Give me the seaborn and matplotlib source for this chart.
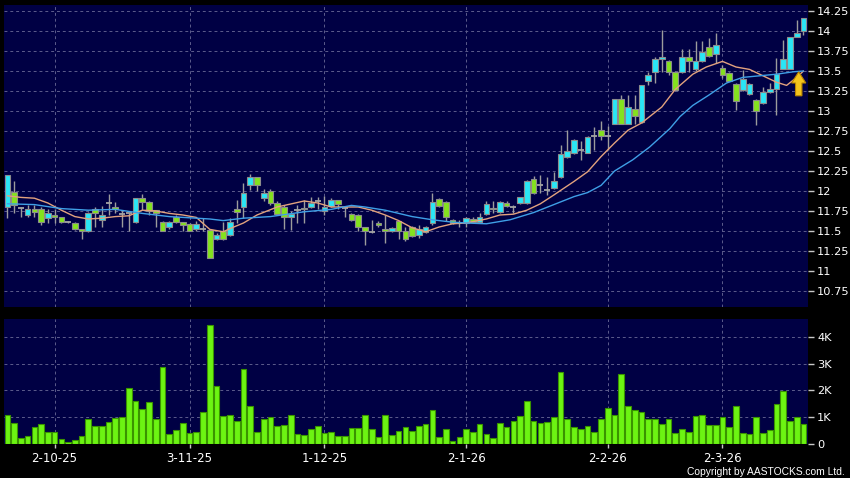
import numpy as np
import pandas as pd
import matplotlib
matplotlib.use("Agg")
import matplotlib.pyplot as plt
import seaborn as sns
from matplotlib.patches import FancyArrow

# ---------------- data ----------------
opens = [11.80, 11.99, 11.79, 11.70, 11.77, 11.78, 11.66, 11.70, 11.67, 11.61,
         11.60, 11.53, 11.50, 11.77, 11.64, 11.85, 11.80, 11.71, 11.72, 11.61,
         11.91, 11.86, 11.76, 11.61, 11.55, 11.68, 11.61, 11.59, 11.53, 11.52,
         11.51, 11.40, 11.50, 11.45, 11.78, 11.80, 12.08, 12.17, 11.91, 12.00,
         11.85, 11.80, 11.67, 11.76, 11.77, 11.80, 11.87, 11.75, 11.81, 11.89,
         11.79, 11.71, 11.70, 11.55, 11.49, 11.60, 11.53, 11.50, 11.62, 11.50,
         11.55, 11.45, 11.49, 11.60, 11.90, 11.86, 11.64, 11.60, 11.60, 11.65,
         11.61, 11.71, 11.79, 11.74, 11.85, 11.80, 11.85, 11.85, 12.15, 12.08,
         12.01, 12.04, 12.17, 12.42, 12.48, 12.51, 12.48, 12.69, 12.76, 12.69,
         12.84, 13.15, 12.84, 13.02, 12.86, 13.38, 13.49, 13.65, 13.63, 13.49,
         13.49, 13.68, 13.52, 13.62, 13.80, 13.71, 13.54, 13.48, 13.34, 13.26,
         13.21, 13.14, 13.10, 13.24, 13.28, 13.53, 13.53, 13.93, 14.00]
highs = [12.20, 12.13, 11.80, 11.82, 11.82, 11.80, 11.78, 11.77, 11.68, 11.62,
         11.61, 11.53, 11.74, 11.80, 11.81, 11.96, 11.86, 11.76, 11.72, 11.91,
         11.96, 11.87, 11.76, 11.62, 11.62, 11.70, 11.61, 11.60, 11.62, 11.66,
         11.52, 11.47, 11.61, 11.66, 11.89, 12.10, 12.21, 12.18, 12.03, 12.03,
         11.88, 11.82, 11.75, 11.82, 11.89, 11.93, 11.93, 11.94, 11.91, 11.89,
         11.80, 11.72, 11.71, 11.55, 11.64, 11.62, 11.70, 11.55, 11.63, 11.55,
         11.56, 11.57, 11.56, 11.97, 11.91, 11.87, 11.65, 11.64, 11.68, 11.67,
         11.72, 11.87, 11.87, 11.87, 11.87, 11.82, 11.93, 12.14, 12.19, 12.20,
         12.18, 12.24, 12.58, 12.76, 12.65, 12.62, 12.69, 12.80, 12.88, 12.81,
         13.15, 13.20, 13.20, 13.20, 13.33, 13.49, 13.68, 14.01, 13.64, 13.50,
         13.78, 13.78, 13.88, 13.87, 13.91, 13.97, 13.57, 13.49, 13.35, 13.51,
         13.35, 13.15, 13.30, 13.35, 13.66, 13.89, 13.92, 14.14, 14.16]
lows = [11.66, 11.72, 11.67, 11.67, 11.68, 11.57, 11.60, 11.60, 11.60, 11.60,
        11.51, 11.40, 11.49, 11.55, 11.55, 11.70, 11.72, 11.55, 11.50, 11.60,
        11.76, 11.70, 11.55, 11.50, 11.52, 11.60, 11.50, 11.50, 11.50, 11.50,
        11.16, 11.39, 11.39, 11.44, 11.60, 11.66, 12.01, 12.00, 11.88, 11.83,
        11.70, 11.53, 11.51, 11.60, 11.60, 11.79, 11.78, 11.70, 11.80, 11.78,
        11.68, 11.63, 11.50, 11.33, 11.48, 11.55, 11.35, 11.49, 11.40, 11.38,
        11.42, 11.41, 11.48, 11.58, 11.80, 11.62, 11.59, 11.55, 11.55, 11.60,
        11.60, 11.70, 11.72, 11.73, 11.80, 11.72, 11.84, 11.84, 11.96, 11.97,
        11.95, 12.03, 12.16, 12.41, 12.46, 12.39, 12.47, 12.51, 12.64, 12.51,
        12.84, 12.84, 12.84, 12.84, 12.85, 13.33, 13.35, 13.49, 13.45, 13.25,
        13.48, 13.49, 13.50, 13.61, 13.67, 13.60, 13.41, 13.37, 13.01, 13.25,
        13.20, 12.82, 13.09, 13.23, 12.95, 13.52, 13.52, 13.92, 13.95]
closes = [12.20, 11.83, 11.79, 11.77, 11.74, 11.61, 11.73, 11.67, 11.61, 11.61,
          11.52, 11.50, 11.73, 11.73, 11.70, 11.85, 11.77, 11.71, 11.72, 11.91,
          11.86, 11.75, 11.73, 11.50, 11.61, 11.61, 11.58, 11.50, 11.59, 11.52,
          11.16, 11.45, 11.40, 11.61, 11.74, 11.98, 12.17, 12.07, 11.98, 11.85,
          11.71, 11.67, 11.71, 11.76, 11.79, 11.85, 11.87, 11.80, 11.89, 11.84,
          11.79, 11.64, 11.55, 11.50, 11.49, 11.57, 11.50, 11.54, 11.50, 11.40,
          11.44, 11.53, 11.55, 11.86, 11.81, 11.67, 11.60, 11.60, 11.66, 11.61,
          11.68, 11.84, 11.77, 11.86, 11.81, 11.80, 11.92, 12.13, 11.97, 12.08,
          12.01, 12.12, 12.46, 12.50, 12.64, 12.51, 12.67, 12.69, 12.69, 12.69,
          13.15, 12.84, 13.05, 12.94, 13.33, 13.45, 13.65, 13.67, 13.49, 13.26,
          13.68, 13.62, 13.62, 13.74, 13.69, 13.83, 13.45, 13.38, 13.12, 13.40,
          13.34, 13.00, 13.24, 13.28, 13.46, 13.65, 13.92, 13.97, 14.16]
volume_k = [1.07, 0.79, 0.19, 0.28, 0.63, 0.72, 0.44, 0.44, 0.16, 0.04,
            0.15, 0.28, 0.94, 0.67, 0.67, 0.82, 0.97, 0.99, 2.10, 1.62,
            1.29, 1.55, 0.92, 2.89, 0.37, 0.50, 0.76, 0.40, 0.42, 1.19,
            4.46, 2.16, 1.04, 1.06, 0.83, 2.79, 1.42, 0.44, 0.91, 1.00,
            0.65, 0.68, 1.09, 0.35, 0.33, 0.56, 0.65, 0.40, 0.44, 0.28,
            0.30, 0.59, 0.60, 1.06, 0.54, 0.24, 1.07, 0.31, 0.46, 0.64,
            0.46, 0.65, 0.73, 1.25, 0.25, 0.56, 0.11, 0.23, 0.53, 0.42,
            0.72, 0.34, 0.19, 0.77, 0.62, 0.86, 1.05, 1.61, 0.84, 0.76,
            0.82, 0.98, 2.70, 0.91, 0.63, 0.54, 0.67, 0.45, 0.93, 1.32,
            1.06, 2.62, 1.40, 1.28, 1.18, 0.91, 0.94, 0.72, 0.92, 0.40,
            0.53, 0.45, 1.04, 1.06, 0.70, 0.69, 1.00, 0.62, 1.42, 0.39,
            0.34, 1.00, 0.39, 0.49, 1.47, 1.97, 0.84, 1.00, 0.73]

ma10_idx = [0, 2, 4, 6, 8, 10, 12, 14, 16, 18, 20, 22, 24, 26, 28, 30, 32, 33, 35, 37,
            40, 44, 46, 48, 50, 52, 54, 56, 58, 60, 62, 64, 66, 68, 71, 73, 75, 77, 79, 81,
            84, 86, 88, 90, 92, 94, 97, 99, 101.6, 103.6, 106, 108, 110, 112, 114, 115.5, 117, 118]
ma10_val = [11.94, 11.92, 11.91, 11.85, 11.76, 11.68, 11.65, 11.66, 11.68, 11.69, 11.76, 11.75,
            11.72, 11.70, 11.67, 11.52, 11.49, 11.53, 11.60, 11.70, 11.80, 11.875, 11.85, 11.80,
            11.80, 11.80, 11.76, 11.70, 11.63, 11.54, 11.49, 11.55, 11.59, 11.60, 11.65, 11.70,
            11.71, 11.76, 11.84, 11.95, 12.12, 12.24, 12.43, 12.60, 12.76, 12.85, 13.05, 13.27,
            13.46, 13.55, 13.62, 13.55, 13.52, 13.44, 13.36, 13.32, 13.42, 13.50]
ma20_idx = [0, 4, 8, 12, 16, 20, 24, 28, 30, 32, 35, 39, 44, 48, 51, 53, 56, 58, 60, 63,
            66, 68, 71, 74.5, 78, 81, 84, 86, 88, 90, 92.7, 95.2, 98.2, 99.7, 101.6, 104,
            106.6, 109, 111.5, 114, 116.5, 118]
ma20_val = [11.84, 11.83, 11.78, 11.76, 11.77, 11.72, 11.68, 11.66, 11.65, 11.63, 11.66, 11.68,
            11.74, 11.77, 11.82, 11.80, 11.76, 11.72, 11.68, 11.64, 11.61, 11.60, 11.59, 11.64,
            11.73, 11.83, 11.93, 11.98, 12.07, 12.25, 12.39, 12.55, 12.78, 12.93, 13.07, 13.20,
            13.35, 13.42, 13.44, 13.46, 13.49, 13.50]

date_pos = [7, 27, 47, 68, 89, 106]
date_labels = ["2-10-25", "3-11-25", "1-12-25", "2-1-26", "2-2-26", "2-3-26"]
price_ticks = [10.75, 11, 11.25, 11.5, 11.75, 12, 12.25, 12.5, 12.75, 13, 13.25, 13.5, 13.75, 14, 14.25]
price_labels = ["10.75", "11", "11.25", "11.5", "11.75", "12", "12.25", "12.5", "12.75",
                "13", "13.25", "13.5", "13.75", "14", "14.25"]
vol_ticks = [0, 1, 2, 3, 4]
vol_labels = ["0", "1K", "2K", "3K", "4K"]

# ---------------- style ----------------
sns.set_theme(style="dark")
plt.rcParams["font.family"] = ["DejaVu Sans"]
BG = "#000044"
GRID = "#5c5c8c"
CYAN = "#2ae6f6"
GREEN = "#84e21e"
VOL = "#6cf412"
ORANGE = "#e2a27e"
BLUE = "#3f9fe6"

df = pd.DataFrame({"o": opens, "h": highs, "l": lows, "c": closes, "v": volume_k})
df["i"] = np.arange(len(df))

W, H = 850, 478
fig = plt.figure(figsize=(W / 100, H / 100), dpi=100, facecolor="black")
L, R = 4, 807.5
ax = fig.add_axes([L / W, 1 - 306.5 / H, (R - L) / W, (306.5 - 5) / H])
axv = fig.add_axes([L / W, 1 - 443.5 / H, (R - L) / W, (443.5 - 319.3) / H])

for a in (ax, axv):
    a.set_facecolor(BG)
    for s in a.spines.values():
        s.set_visible(False)

# grid
for p in price_ticks:
    ax.axhline(p, color=GRID, lw=0.7, ls=(0, (3, 3)), zorder=0)
for d in date_pos:
    ax.axvline(d, color=GRID, lw=0.7, ls=(0, (3, 3)), zorder=0)
    axv.axvline(d, color=GRID, lw=0.7, ls=(0, (3, 3)), zorder=0)
for v in vol_ticks[1:]:
    axv.axhline(v, color=GRID, lw=0.7, ls=(0, (3, 3)), zorder=0)

# candles
i = df["i"].values
o, h, l, c = df["o"].values, df["h"].values, df["l"].values, df["c"].values
ax.vlines(i, l, h, color="#9c9c9c", lw=1.0, zorder=2)
up = c > o
dn = c < o
fl = c == o
ax.bar(i[up], (c - o)[up], bottom=o[up], width=0.84, color=CYAN,
       edgecolor="#8c8c8c", linewidth=0.8, zorder=3)
ax.bar(i[dn], (o - c)[dn], bottom=c[dn], width=0.84, color=GREEN,
       edgecolor="#8c8c8c", linewidth=0.8, zorder=3)
ax.hlines(c[fl], i[fl] - 0.45, i[fl] + 0.45, color="#a4a4a4", lw=1.3, zorder=3)

# moving averages
sns.lineplot(x=ma10_idx, y=ma10_val, ax=ax, color=ORANGE, lw=1.0, zorder=4)
sns.lineplot(x=ma20_idx, y=ma20_val, ax=ax, color=BLUE, lw=1.0, zorder=4)

# arrow
ax.add_patch(FancyArrow(117.3, 13.19, 0, 0.30, width=0.95, head_width=2.1,
                        head_length=0.14, length_includes_head=True,
                        fc="#f4c41c", ec="#b88400", lw=0.8, zorder=6))

ax.set_xlim(-0.5, 118.6)
ax.set_ylim(10.556, 14.325)
ax.set_xticks([])
ax.yaxis.tick_right()
ax.set_yticks(price_ticks)
ax.set_yticklabels(price_labels)
ax.tick_params(axis="y", which="both", right=True, left=False, length=4, width=1,
               color="#c8c8c8", labelcolor="white", labelsize=8.2, pad=3, direction="out")
ax.set_xlabel("")
ax.set_ylabel("")

# volume
sns.barplot(data=df, x="i", y="v", ax=axv, color=VOL, saturation=1, width=0.84,
            edgecolor="#3a9400", linewidth=0.8, zorder=3)
axv.set_xlim(-0.5, 118.6)
axv.set_ylim(0, 4.68)
axv.set_xticks(date_pos)
axv.set_xticklabels(date_labels)
axv.yaxis.tick_right()
axv.set_yticks(vol_ticks)
axv.set_yticklabels(vol_labels)
axv.tick_params(axis="y", right=True, left=False, length=4, width=1, color="#c8c8c8",
                labelcolor="white", labelsize=8.2, pad=3, direction="out")
axv.tick_params(axis="x", bottom=True, length=3, width=1, color="#c8c8c8",
                labelcolor="white", labelsize=8.5, pad=3, direction="out")
axv.set_xlabel("")
axv.set_ylabel("")

fig.text(0.994, 0.013, "Copyright by AASTOCKS.com Ltd.", ha="right", va="center",
         color="white", fontsize=7.4, family=["Liberation Sans", "DejaVu Sans"])

fig.savefig("out.png", dpi=100, facecolor="black")
